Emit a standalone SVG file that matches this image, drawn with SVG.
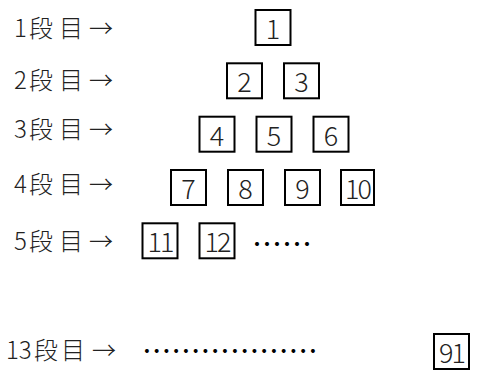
<svg xmlns="http://www.w3.org/2000/svg" width="477" height="372" viewBox="0 0 477 372">
<style>
.lbl{font-family:"Noto Sans CJK JP","Noto Sans CJK SC",sans-serif;font-size:24px;font-weight:300;fill:#222;dominant-baseline:central}
.box{fill:#fff;stroke:#000;stroke-width:2}
.num{font-family:"Noto Sans CJK JP","Noto Sans CJK SC",sans-serif;font-size:27px;font-weight:300;fill:#222;text-anchor:middle;dominant-baseline:central}
.dots{font-family:"Noto Sans CJK JP","Noto Sans CJK SC",sans-serif;fill:#000;dominant-baseline:central}
</style>
<rect width="477" height="372" fill="#fff"/>
<g id="labels">
<text class="lbl" y="26"><tspan x="14">1</tspan><tspan x="29">段</tspan><tspan x="59">目</tspan><tspan x="89">→</tspan></text>
<text class="lbl" y="77.5"><tspan x="14">2</tspan><tspan x="29">段</tspan><tspan x="59">目</tspan><tspan x="89">→</tspan></text>
<text class="lbl" y="127"><tspan x="14">3</tspan><tspan x="29">段</tspan><tspan x="59">目</tspan><tspan x="89">→</tspan></text>
<text class="lbl" y="181.5"><tspan x="14">4</tspan><tspan x="29">段</tspan><tspan x="59">目</tspan><tspan x="89">→</tspan></text>
<text class="lbl" y="239"><tspan x="14">5</tspan><tspan x="29">段</tspan><tspan x="59">目</tspan><tspan x="89">→</tspan></text>
<text class="lbl" y="348"><tspan x="6">13</tspan><tspan x="34">段</tspan><tspan x="61">目</tspan><tspan x="92">→</tspan></text>
</g>
<g id="n1"><rect class="box" x="255.5" y="10" width="35" height="35"/><text class="num" x="273" y="27.5">1</text></g>
<g id="n2"><rect class="box" x="227" y="63.3" width="35" height="35"/><text class="num" x="244.5" y="80.8">2</text></g>
<g id="n3"><rect class="box" x="284" y="63.3" width="35" height="35"/><text class="num" x="301.5" y="80.8">3</text></g>
<g id="n4"><rect class="box" x="199.5" y="116.7" width="35" height="35"/><text class="num" x="217" y="134.2">4</text></g>
<g id="n5"><rect class="box" x="256.5" y="116.7" width="35" height="35"/><text class="num" x="274" y="134.2">5</text></g>
<g id="n6"><rect class="box" x="313.5" y="116.7" width="35" height="35"/><text class="num" x="331" y="134.2">6</text></g>
<g id="n7"><rect class="box" x="171" y="170" width="35" height="35"/><text class="num" x="188.5" y="187.5">7</text></g>
<g id="n8"><rect class="box" x="228" y="170" width="35" height="35"/><text class="num" x="245.5" y="187.5">8</text></g>
<g id="n9"><rect class="box" x="285" y="170" width="35" height="35"/><text class="num" x="302.5" y="187.5">9</text></g>
<g id="n10"><rect class="box" x="341" y="170" width="33" height="35"/><text class="num" x="357.5" y="187.5" letter-spacing="-2">10</text></g>
<g id="n11"><rect class="box" x="142.5" y="223.3" width="35" height="35"/><text class="num" x="160" y="240.8" letter-spacing="-2">11</text></g>
<g id="n12"><rect class="box" x="199.5" y="223.3" width="35" height="35"/><text class="num" x="217" y="240.8" letter-spacing="-2">12</text></g>
<g id="n91"><rect class="box" x="434" y="334" width="35" height="35"/><text class="num" x="451.5" y="351.5" letter-spacing="-2">91</text></g>
<g id="ellipses">
<text class="dots" x="252" y="242" font-size="30">……</text>
<text class="dots" x="142" y="349" font-size="29.3">………………</text>
</g>
<g id="connectors"></g>
</svg>
